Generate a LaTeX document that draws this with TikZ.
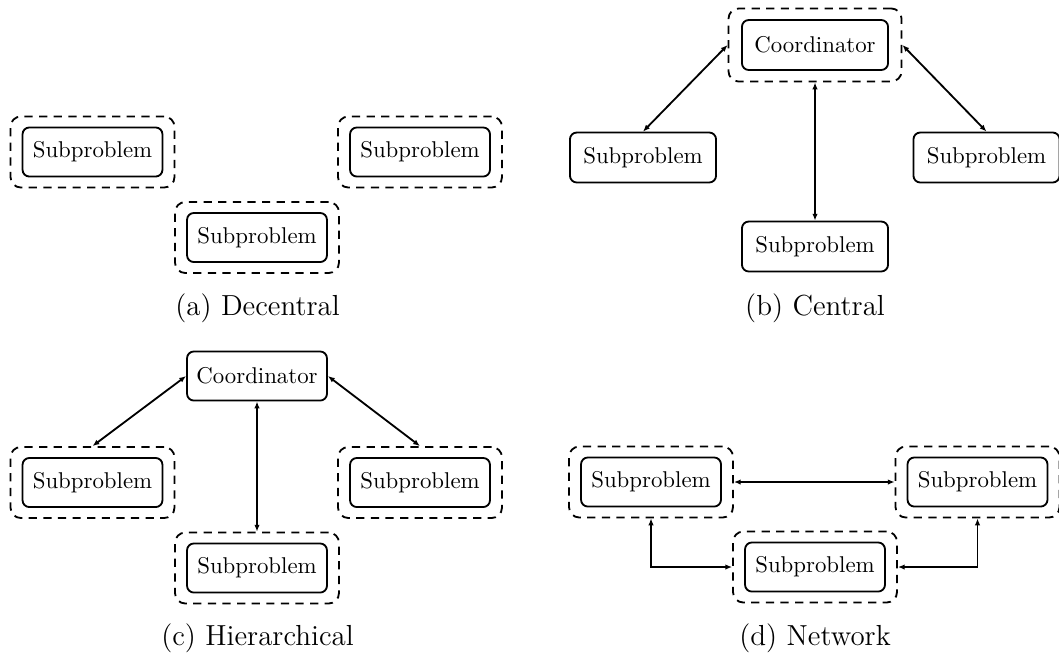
\documentclass[tikz,border=0pt]{standalone}
\usetikzlibrary{arrows.meta}
\begin{document}
\begin{tikzpicture}[x=0.438pt,y=-0.438pt,
  box/.style={draw,thick,rounded corners=3pt,minimum width=61.3pt,minimum height=21.5pt,inner sep=0pt},
  wide/.style={box,minimum width=64pt,minimum height=21.9pt},
  wrap/.style={draw,thick,dash pattern=on 3.6pt off 2.8pt,rounded corners=4.5pt,minimum width=71.8pt,minimum height=31.1pt,inner sep=0pt},
  cwrap/.style={wrap,minimum width=75.8pt,minimum height=32pt},
  link/.style={thick,{Latex[length=3pt,width=2.4pt]}-{Latex[length=3pt,width=2.4pt]}},
  caption/.style={anchor=base,inner sep=0pt,font=\fontsize{12.7}{15}\selectfont}]
\useasboundingbox (0,0) rectangle (1059,659);

% (a) independent subproblems
\node[wrap] (aLw) at (92.5,152) {};
\node[box]  (aL)  at (92.5,152) {Subproblem};
\node[wrap] (aRw) at (420,152) {};
\node[box]  (aR)  at (420,152) {Subproblem};
\node[wrap] (aMw) at (257,237.5) {};
\node[box]  (aM)  at (257,237.5) {Subproblem};
\node[caption] (capa) at (257.5,315) {(a) Decentral};

% (b) coordinator with plain subproblems
\node[cwrap] (bCw) at (815,45) {};
\node[wide]  (bC)  at (815,45) {Coordinator};
\node[wide]  (bL)  at (643,157.5) {Subproblem};
\node[wide]  (bR)  at (986.5,157.5) {Subproblem};
\node[wide]  (bM)  at (815,246.5) {Subproblem};
\draw[link] (bCw.west) -- (bL.north);
\draw[link] (bCw.east) -- (bR.north);
\draw[link] (bCw.south) -- (bM.north);
\node[caption] (capb) at (815,315) {(b) Central};

% (c) coordinator over wrapped subproblems
\node[box]  (cC)  at (257,376) {Coordinator};
\node[wrap] (cLw) at (92.5,482.5) {};
\node[box]  (cL)  at (92.5,482.5) {Subproblem};
\node[wrap] (cRw) at (420,482.5) {};
\node[box]  (cR)  at (420,482.5) {Subproblem};
\node[wrap] (cMw) at (257,568) {};
\node[box]  (cM)  at (257,568) {Subproblem};
\draw[link] (cC.west) -- (cLw.north);
\draw[link] (cC.east) -- (cRw.north);
\draw[link] (cC.south) -- (cMw.north);
\node[caption] (capc) at (257.5,645) {(c) Hierarchical};

% (d) network of subproblems
\node[wrap] (dLw) at (651,482) {};
\node[box]  (dL)  at (651,482) {Subproblem};
\node[wrap] (dRw) at (977.5,482) {};
\node[box]  (dR)  at (977.5,482) {Subproblem};
\node[wrap] (dMw) at (815,567) {};
\node[box]  (dM)  at (815,567) {Subproblem};
\draw[link] (dLw.east) -- (dRw.west);
\draw[link] (dLw.south) |- (dMw.west);
\draw[link] (dRw.south) |- (dMw.east);
\node[caption] (capd) at (815,645) {(d) Network};
\end{tikzpicture}
\end{document}
